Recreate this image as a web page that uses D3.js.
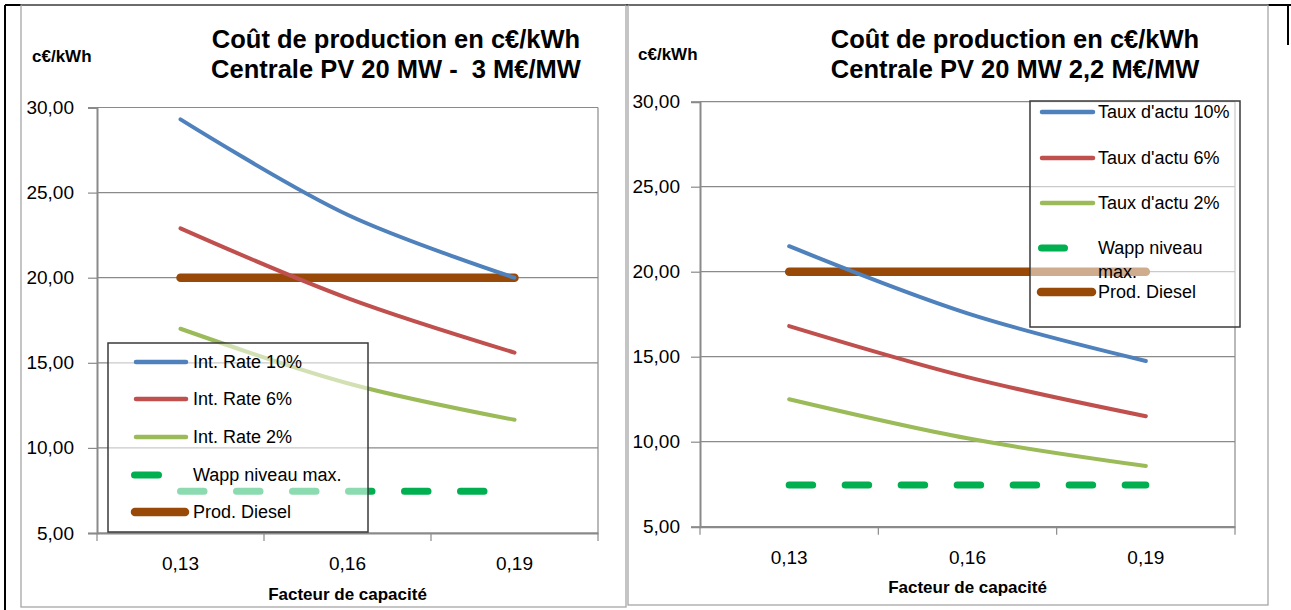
<!DOCTYPE html>
<html>
<head>
<meta charset="utf-8">
<script src="https://cdn.jsdelivr.net/npm/d3@7"></script>
<style>
  html, body { margin: 0; padding: 0; background: #ffffff; }
  svg { display: block; }
  text { font-family: "Liberation Sans", Arial, sans-serif; fill: #000; white-space: pre; }
</style>
</head>
<body>
<svg id="chart" width="1291" height="610"></svg>
<script>
// ---------------- DATA ----------------
const categories = ["0,13", "0,16", "0,19"];
const yTickValues = [5, 10, 15, 20, 25, 30];
const yUnitLabel = "c€/kWh";
const xAxisTitle = "Facteur de capacité";

const titleLeft = ["Coût de production en c€/kWh", "Centrale PV 20 MW -  3 M€/MW"];
const titleRight = ["Coût de production en c€/kWh", "Centrale PV 20 MW 2,2 M€/MW"];

const namesLeft = ["Int. Rate 10%", "Int. Rate 6%", "Int. Rate 2%", "Wapp niveau max.", "Prod. Diesel"];
const namesRight = ["Taux d'actu 10%", "Taux d'actu 6%", "Taux d'actu 2%", "Wapp niveau max.", "Prod. Diesel"];

const leftRate10 = [29.3, 23.7, 20.0];
const leftRate6 = [22.9, 18.8, 15.6];
const leftRate2 = [17.0, 13.8, 11.65];
const leftWapp = [7.45, 7.45, 7.45];
const leftDiesel = [20.0, 20.0, 20.0];

const rightRate10 = [21.5, 17.55, 14.75];
const rightRate6 = [16.8, 13.8, 11.5];
const rightRate2 = [12.5, 10.2, 8.57];
const rightWapp = [7.45, 7.45, 7.45];
const rightDiesel = [20.0, 20.0, 20.0];

// ---------------- STYLE ----------------
const colors = ["#4f81bd", "#c0504d", "#9bbb59", "#00b050", "#984807"];
const gridColor = "#8a8a8a";
const fmt = v => d3.format(".2f")(v).replace(".", ",");

const svg = d3.select("#chart");

// outer black frame
svg.append("line").attr("x1", 5).attr("x2", 1291).attr("y1", 5).attr("y2", 5)
  .attr("stroke", "#000").attr("stroke-width", 2);
svg.append("line").attr("x1", 5).attr("x2", 5).attr("y1", 5).attr("y2", 610)
  .attr("stroke", "#000").attr("stroke-width", 2);

function drawChart(cfg) {
  const g = svg.append("g");
  // chart border
  g.append("rect").attr("x", cfg.box.x).attr("y", cfg.box.y).attr("width", cfg.box.w).attr("height", cfg.box.h)
    .attr("fill", "none").attr("stroke", "#a6a6a6").attr("stroke-width", 1.3);

  const x = d3.scaleBand().domain(categories).range([cfg.plot.x0, cfg.plot.x1]).padding(0);
  const y = d3.scaleLinear().domain([5, 30]).range([cfg.plot.yBot, cfg.plot.yTop]);
  const cx = c => x(c) + x.bandwidth() / 2;

  // gridlines
  g.append("g").selectAll("line").data(yTickValues).join("line")
    .attr("x1", cfg.plot.x0).attr("x2", cfg.plot.x1)
    .attr("y1", d => y(d)).attr("y2", d => y(d))
    .attr("stroke", gridColor).attr("stroke-width", 1.2);
  // plot right border
  g.append("line").attr("x1", cfg.plot.x1).attr("x2", cfg.plot.x1)
    .attr("y1", y(30)).attr("y2", y(5)).attr("stroke", gridColor).attr("stroke-width", 1.2);

  // y axis
  const yAxis = g.append("g").attr("transform", `translate(${cfg.plot.x0},0)`)
    .call(d3.axisLeft(y).tickValues(yTickValues).tickFormat(fmt).tickSize(9).tickPadding(cfg.yPad));
  yAxis.select(".domain").attr("stroke", gridColor).attr("stroke-width", 2);
  yAxis.selectAll(".tick line").attr("stroke", gridColor).attr("stroke-width", 1.2);
  yAxis.selectAll(".tick text").attr("font-size", 19).attr("font-family", "Liberation Sans").attr("fill", "#000");

  // x axis
  const xAxis = g.append("g").attr("transform", `translate(0,${cfg.plot.yBot})`)
    .call(d3.axisBottom(x).tickSize(0).tickPadding(24));
  xAxis.select(".domain").attr("stroke", gridColor).attr("stroke-width", 2);
  xAxis.selectAll(".tick text").attr("font-size", 19).attr("font-family", "Liberation Sans").attr("fill", "#000");
  // category boundary ticks
  const bounds = categories.map(c => x(c)).concat([x(categories[categories.length - 1]) + x.step()]);
  g.append("g").selectAll("line").data(bounds).join("line")
    .attr("x1", d => d).attr("x2", d => d)
    .attr("y1", cfg.plot.yBot).attr("y2", cfg.plot.yBot + 8)
    .attr("stroke", gridColor).attr("stroke-width", 1.2);

  // titles
  g.append("text").attr("x", cfg.titleX).attr("y", cfg.titleY1).attr("text-anchor", "middle")
    .attr("font-size", 25.5).attr("font-weight", "bold").text(cfg.title[0]);
  g.append("text").attr("x", cfg.titleX).attr("y", cfg.titleY2).attr("text-anchor", "middle")
    .attr("font-size", 25.5).attr("font-weight", "bold").text(cfg.title[1]);
  g.append("text").attr("x", cfg.unitX).attr("y", cfg.unitY)
    .attr("font-size", 17).attr("font-weight", "bold").text(yUnitLabel);
  g.append("text").attr("x", (cfg.plot.x0 + cfg.plot.x1) / 2).attr("y", cfg.xTitleY).attr("text-anchor", "middle")
    .attr("font-size", 17).attr("font-weight", "bold").text(xAxisTitle);

  // series
  const line = d3.line().x((d, i) => cx(categories[i])).y(d => y(d)).curve(d3.curveCatmullRom.alpha(0.5));
  const flat = d3.line().x((d, i) => cx(categories[i])).y(d => y(d));
  const series = cfg.series;
  // Diesel
  g.append("path").attr("d", flat(series[4])).attr("fill", "none").attr("stroke", colors[4])
    .attr("stroke-width", 8.5).attr("stroke-linecap", "round");
  // Wapp
  g.append("path").attr("d", flat(series[3])).attr("fill", "none").attr("stroke", colors[3])
    .attr("stroke-width", 7).attr("stroke-linecap", "round").attr("stroke-dasharray", "23.5 32.5");
  // rates
  [0, 1, 2].forEach(k => {
    g.append("path").attr("d", line(series[k])).attr("fill", "none").attr("stroke", colors[k])
      .attr("stroke-width", 4).attr("stroke-linecap", "round");
  });

  // legend
  const L = cfg.legend;
  g.append("rect").attr("x", L.x).attr("y", L.y).attr("width", L.w).attr("height", L.h)
    .attr("fill", "#ffffff").attr("fill-opacity", 0.55).attr("stroke", "#3a3a3a").attr("stroke-width", 1.5);
  cfg.names.forEach((name, k) => {
    const ry = L.rows[k];
    let x1 = L.lineX0, x2 = L.lineX1, w = 4.5;
    if (k === 3) { x1 = L.dashX0; x2 = L.dashX1; w = 7; }
    if (k === 4) { x1 = L.dieselX0; x2 = L.dieselX1; w = 8.5; }
    g.append("line").attr("x1", x1).attr("x2", x2).attr("y1", ry).attr("y2", ry)
      .attr("stroke", colors[k]).attr("stroke-width", w).attr("stroke-linecap", "round");
    const lines = (k === 3 && L.wrapWapp) ? ["Wapp niveau", "max."] : [name];
    lines.forEach((t, j) => {
      g.append("text").attr("x", L.textX).attr("y", ry + j * 24).attr("dy", "0.35em")
        .attr("font-size", 18).text(t);
    });
  });
}

drawChart({
  box: { x: 21, y: 5, w: 605, h: 602 },
  plot: { x0: 97, x1: 598, yTop: 107.5, yBot: 533 },
  yPad: 14,
  title: titleLeft, titleX: 396, titleY1: 48, titleY2: 78,
  unitX: 32, unitY: 62, xTitleY: 600,
  series: [leftRate10, leftRate6, leftRate2, leftWapp, leftDiesel],
  names: namesLeft,
  legend: { x: 108, y: 343, w: 260, h: 189, rows: [362, 399, 437, 475, 512], textX: 193,
            lineX0: 136, lineX1: 186, dashX0: 134.5, dashX1: 158.5, dieselX0: 135, dieselX1: 185, wrapWapp: false }
});

drawChart({
  box: { x: 628, y: 5, w: 640, h: 600 },
  plot: { x0: 700, x1: 1235, yTop: 101.7, yBot: 526.7 },
  yPad: 11,
  title: titleRight, titleX: 1015, titleY1: 48, titleY2: 78,
  unitX: 638, unitY: 60, xTitleY: 593,
  series: [rightRate10, rightRate6, rightRate2, rightWapp, rightDiesel],
  names: namesRight,
  legend: { x: 1030, y: 101, w: 210, h: 226, rows: [112, 158, 203, 248, 292], textX: 1098,
            lineX0: 1042, lineX1: 1093, dashX0: 1041.5, dashX1: 1064.5, dieselX0: 1041, dieselX1: 1092, wrapWapp: true }
});

// small black frame piece top-right
svg.append("line").attr("x1", 1288).attr("x2", 1288).attr("y1", 5).attr("y2", 45)
  .attr("stroke", "#000").attr("stroke-width", 2);
</script>
</body>
</html>
